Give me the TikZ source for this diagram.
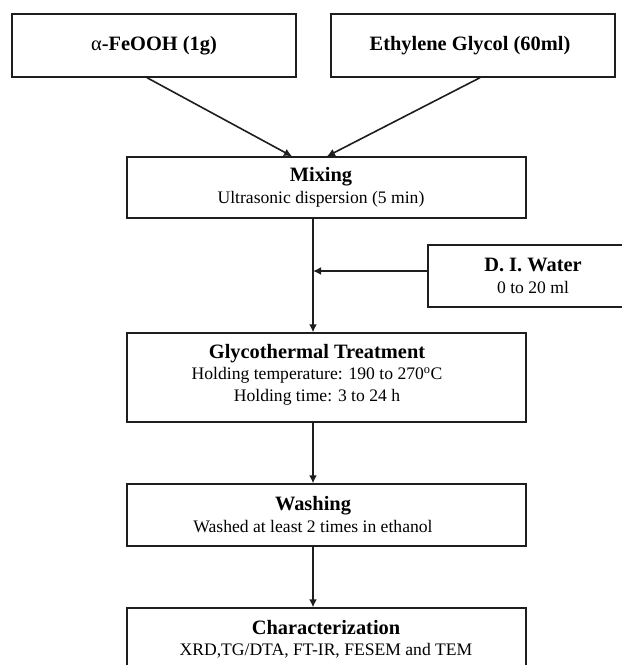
\documentclass[tikz,border=0pt]{standalone}
\usepackage{fontspec}
\setmainfont{Liberation Serif}
\usetikzlibrary{arrows.meta}
\definecolor{linec}{HTML}{1E1E1E}
\tikzset{
  box/.style={draw=linec, line width=1.4bp, inner sep=0pt, fill=white},
  lbl/.style={align=center, inner sep=0pt, text=black,
    font=\fontsize{17.6bp}{21.5bp}\selectfont},
  arr/.style={draw=linec, line width=1.6bp, -{Latex[length=8bp,width=8bp]}},
}
\newcommand{\ttl}[1]{{\bfseries\fontsize{20.4bp}{21.5bp}\selectfont #1}}
\begin{document}
\begin{tikzpicture}[x=1bp,y=-1bp]
\useasboundingbox (0,0) rectangle (622,665);
\clip (0,0) rectangle (622,665);
\fill[white] (0,0) rectangle (622,665);
% boxes
\node[box, minimum width=284bp, minimum height=63bp] (feooh) at (154,45.5) {};
\node[box, minimum width=284bp, minimum height=63bp] (eg) at (473,45.5) {};
\node[box, minimum width=399bp, minimum height=61bp] (mix) at (326.5,187.5) {};
\node[box, minimum width=210bp, minimum height=62bp] (water) at (533,276) {};
\node[box, minimum width=399bp, minimum height=89bp] (glyco) at (326.5,377.5) {};
\node[box, minimum width=399bp, minimum height=62bp] (wash) at (326.5,515) {};
\node[box, minimum width=399bp, minimum height=89bp] (char) at (326.5,652.5) {};
% texts
\node[lbl] (feoohT) at (154,45.5) {\ttl{{\mdseries α}-FeOOH (1g)}};
\node[lbl] (egT) at (470,45.5) {\ttl{Ethylene Glycol (60ml)}};
\node[lbl] (mixT) at (321,187.5) {\ttl{Mixing}\\Ultrasonic dispersion (5 min)};
\node[lbl] (waterT) at (533,276) {\ttl{D. I. Water}\\0 to 20 ml};
\node[lbl] (glycoT) at (317,374.5) {\ttl{Glycothermal Treatment}\\Holding temperature: 190 to 270\textsuperscript{o}C\\Holding time: 3 to 24 h};
\node[lbl] (washT) at (313,514.5) {\ttl{Washing}\\Washed at least 2 times in ethanol};
\node[lbl] (charT) at (326,639.5) {\ttl{Characterization}\\XRD,TG/DTA, FT-IR, FESEM and TEM};
% connectors
\coordinate (sp) at (313,0);
\draw[arr] ([xshift=-7bp]feooh.south) -- ([xshift=-34.5bp]mix.north);
\draw[arr] ([xshift=7bp]eg.south) -- ([xshift=0.5bp]mix.north);
\draw[arr] (mix.south -| sp) -- (glyco.north -| sp);
\draw[arr] ([yshift=5bp]water.west) -- ([yshift=5bp]water.west -| sp);
\draw[arr] (glyco.south -| sp) -- (wash.north -| sp);
\draw[arr] (wash.south -| sp) -- (char.north -| sp);
\end{tikzpicture}
\end{document}
